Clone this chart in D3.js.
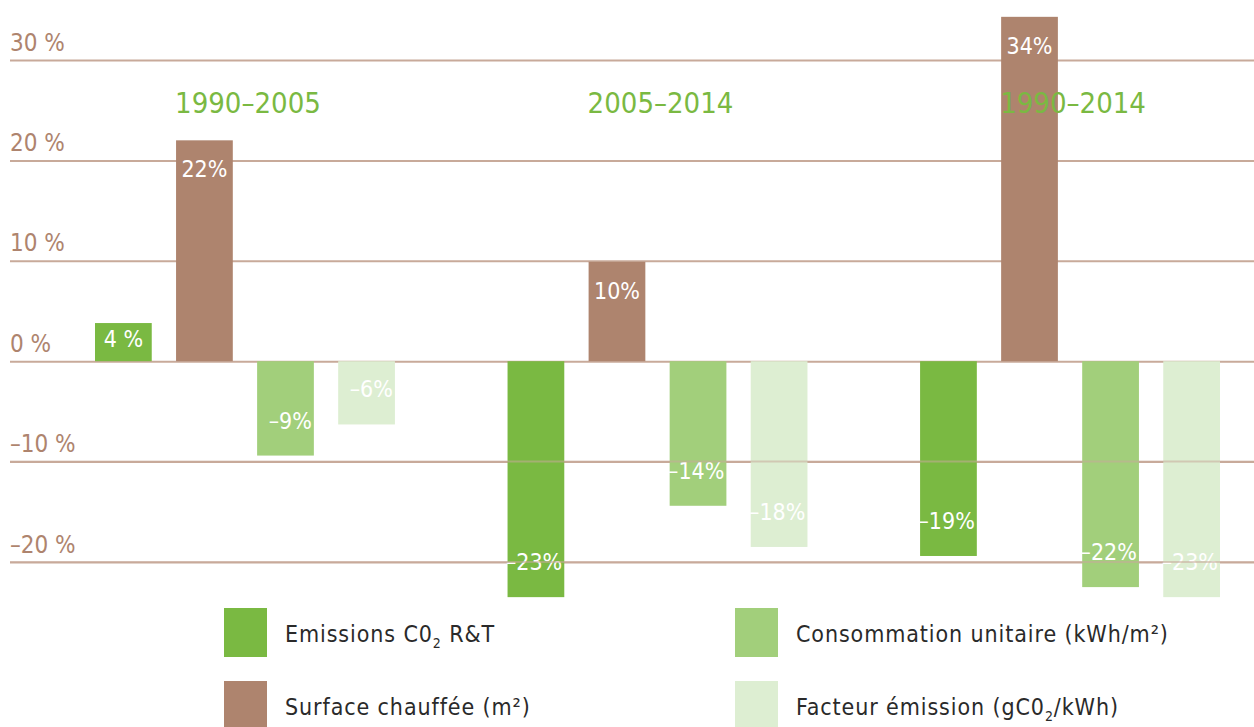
<!DOCTYPE html>
<html>
<head>
<meta charset="utf-8">
<script src="https://cdn.jsdelivr.net/npm/d3@7"></script>
<style>
	body { margin: 0; background: #fff; }
	text { font-family: "DejaVu Sans Condensed", "DejaVu Sans", sans-serif; }
</style>
</head>
<body>
<script>
// data
const periods = ["1990-2005", "2005-2014", "1990-2014"];
const series = ["emissions", "surface", "consommation", "facteur"];
const emissions = [3.8, -23.5, -19.4];
const surface = [22.0, 9.9, 34.3];
const consommation = [-9.4, -14.4, -22.5];
const facteur = [-6.3, -18.5, -23.5];
const valueLabels = [
	["4 %", "22%", "\u20139%", "\u20136%"],
	["\u201323%", "10%", "\u201314%", "\u201318%"],
	["\u201319%", "34%", "\u201322%", "\u201323%"]
];
const yTicks = [30, 20, 10, 0, -10, -20];
const legendItems = [
	{key: "emissions", text: ["Emissions C0", "2", " R&T"]},
	{key: "surface", text: ["Surface chauff\u00e9e (m\u00b2)"]},
	{key: "consommation", text: ["Consommation unitaire (kWh/m\u00b2)"]},
	{key: "facteur", text: ["Facteur \u00e9mission (gC0", "2", "/kWh)"]}
];

const colors = {emissions: "#7ab942", surface: "#ae846e", consommation: "#a2cf7b", facteur: "#ddeed2"};
const valuesBySeries = {emissions, surface, consommation, facteur};

const width = 1254,
	  height = 727,
	  svg = d3.select("body")
			  .append("svg")
			  .attr("width", width)
			  .attr("height", height);

// scales
const x0 = d3.scaleBand().domain(periods).range([95, 1220]).paddingInner(0.273).paddingOuter(0),
	  x1 = d3.scaleBand().domain(series).range([0, x0.bandwidth()]).paddingInner(0.3).paddingOuter(0),
	  y = d3.scaleLinear().domain([-20, 30]).range([562, 60]);

const gridColor = "#c8aa9a",
	  axisColor = "#ae846e";

// grid lines and tick labels
const gridAxis = d3.axisLeft(y).tickValues(yTicks).tickSize(-(width - 10)).tickFormat(d => (d < 0 ? "\u2013" + Math.abs(d) : d) + " %");

const grid = svg.append("g")
				.attr("transform", "translate(10,0)")
				.call(gridAxis);
grid.select(".domain").remove();
grid.selectAll(".tick line")
	.attr("stroke", gridColor)
	.attr("stroke-width", 2)
	.attr("x2", width - 10);
grid.selectAll(".tick text")
	.attr("x", 0)
	.attr("dy", -10)
	.attr("text-anchor", "start")
	.attr("fill", axisColor)
	.attr("font-size", 24)
	.style("font-family", "'DejaVu Sans Condensed', 'DejaVu Sans', sans-serif");

// bars
const rows = periods.map((p, i) => series.map((s, j) => ({period: p, key: s, value: valuesBySeries[s][i], label: valueLabels[i][j]})));

const groups = svg.selectAll(".group")
				  .data(rows)
				  .enter()
				  .append("g")
				  .attr("class", "group")
				  .attr("transform", (d, i) => "translate(" + x0(periods[i]) + ",0)");

groups.selectAll("rect")
	  .data(d => d)
	  .enter()
	  .append("rect")
	  .attr("x", d => x1(d.key))
	  .attr("width", x1.bandwidth())
	  .attr("y", d => y(Math.max(0, d.value)))
	  .attr("height", d => Math.abs(y(d.value) - y(0)))
	  .attr("fill", d => colors[d.key]);

// negative grid lines show through the bars
svg.append("g")
   .selectAll("line")
   .data(yTicks.filter(t => t < 0))
   .enter()
   .append("line")
   .attr("x1", 10)
   .attr("x2", width)
   .attr("y1", d => y(d))
   .attr("y2", d => y(d))
   .attr("stroke", gridColor)
   .attr("stroke-width", 2)
   .attr("opacity", 0.55);

// value labels
groups.selectAll(".val")
	  .data(d => d)
	  .enter()
	  .append("text")
	  .attr("class", "val")
	  .attr("x", d => d.value >= 0 ? x1(d.key) + x1.bandwidth() / 2 : x1(d.key) + x1.bandwidth() - 2)
	  .attr("y", d => {
		  if (d.value < 0) return y(d.value) - 27;
		  const h = y(0) - y(d.value);
		  return y(d.value) + Math.min(37, h - 14);
	  })
	  .attr("text-anchor", d => d.value >= 0 ? "middle" : "end")
	  .attr("fill", "#fff")
	  .attr("font-size", 23)
	  .text(d => d.label);

// period titles
svg.selectAll(".period")
   .data(periods)
   .enter()
   .append("text")
   .attr("class", "period")
   .attr("x", d => x0(d) + x0.bandwidth() / 2 + 3)
   .attr("y", 113)
   .attr("text-anchor", "middle")
   .attr("fill", "#7ab942")
   .attr("font-size", 29)
   .text(d => d.replace("-", "\u2013"));

// legend
const legend = svg.selectAll(".legend")
				  .data(legendItems)
				  .enter()
				  .append("g")
				  .attr("class", "legend")
				  .attr("transform", (d, i) => "translate(" + (i < 2 ? 224 : 735) + "," + (i % 2 === 0 ? 608 : 681) + ")");

legend.append("rect")
	  .attr("width", 43)
	  .attr("height", 49)
	  .attr("fill", d => colors[d.key]);

const legendText = legend.append("text")
						 .attr("x", 61)
						 .attr("y", 34)
						 .attr("fill", "#2a2a2a")
						 .attr("font-size", 23)
						 .attr("letter-spacing", 0.9);

legendText.each(function(d) {
	const t = d3.select(this);
	d.text.forEach((part, i) => {
		const span = t.append("tspan").text(part);
		if (i === 1) span.attr("font-size", 14).attr("dy", 6);
		if (i === 2) span.attr("dy", -6);
	});
});
</script>
</body>
</html>
